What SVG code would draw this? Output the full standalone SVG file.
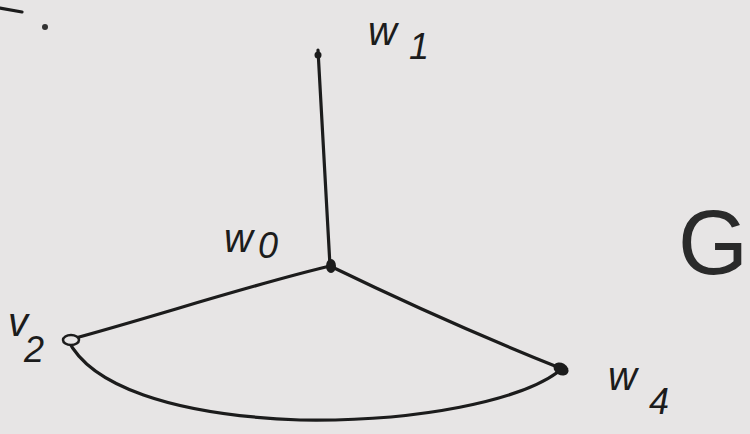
<svg xmlns="http://www.w3.org/2000/svg" width="750" height="434" viewBox="0 0 750 434">
<style>
.e{fill:none;stroke:#1c1c1c;stroke-width:3.2;stroke-linecap:round}
.lbl{font-family:"Liberation Sans",Arial,sans-serif;font-size:40px;fill:#1c1c1c;font-style:italic}
.sub{font-size:36px}
</style>
<rect width="750" height="434" fill="#e7e5e5"/>
<path d="M0 8 L22 12" class="e" stroke-width="2.5"/>
<circle cx="45" cy="27" r="3" fill="#333"/>
<g id="connectors">
<path class="e" d="M318 50 L330 266"/>
<path class="e" d="M330 266 C250 285 150 318 68 340"/>
<path class="e" d="M330 266 C400 300 490 340 560 368"/>
<path class="e" d="M68 340 C90 385 170 415 300 420 C420 422 520 400 558 372"/>
</g>
<g id="w1">
<circle cx="318" cy="55" r="3.5" fill="#1c1c1c"/>
<text class="lbl" x="368" y="45">w<tspan class="sub" dx="12" dy="14">1</tspan></text>
</g>
<g id="w0">
<ellipse cx="331" cy="266" rx="5" ry="7" fill="#1c1c1c"/>
<text class="lbl" x="224" y="252">w<tspan class="sub" dx="5" dy="6">0</tspan></text>
</g>
<g id="v2">
<ellipse cx="71" cy="340" rx="8" ry="5" fill="#e7e5e5" stroke="#1c1c1c" stroke-width="2.5"/>
<text class="lbl" x="8" y="336">v<tspan class="sub" dx="-4" dy="26">2</tspan></text>
</g>
<g id="w4">
<ellipse cx="561" cy="369" rx="8" ry="6" fill="#1c1c1c" transform="rotate(30 561 369)"/>
<text class="lbl" x="608" y="390">w<tspan class="sub" dx="12" dy="24">4</tspan></text>
</g>
<text x="678" y="274" style="font-family:'Liberation Sans',Arial,sans-serif;font-size:90px;fill:#2a2a2a;font-weight:300">G</text>
</svg>
